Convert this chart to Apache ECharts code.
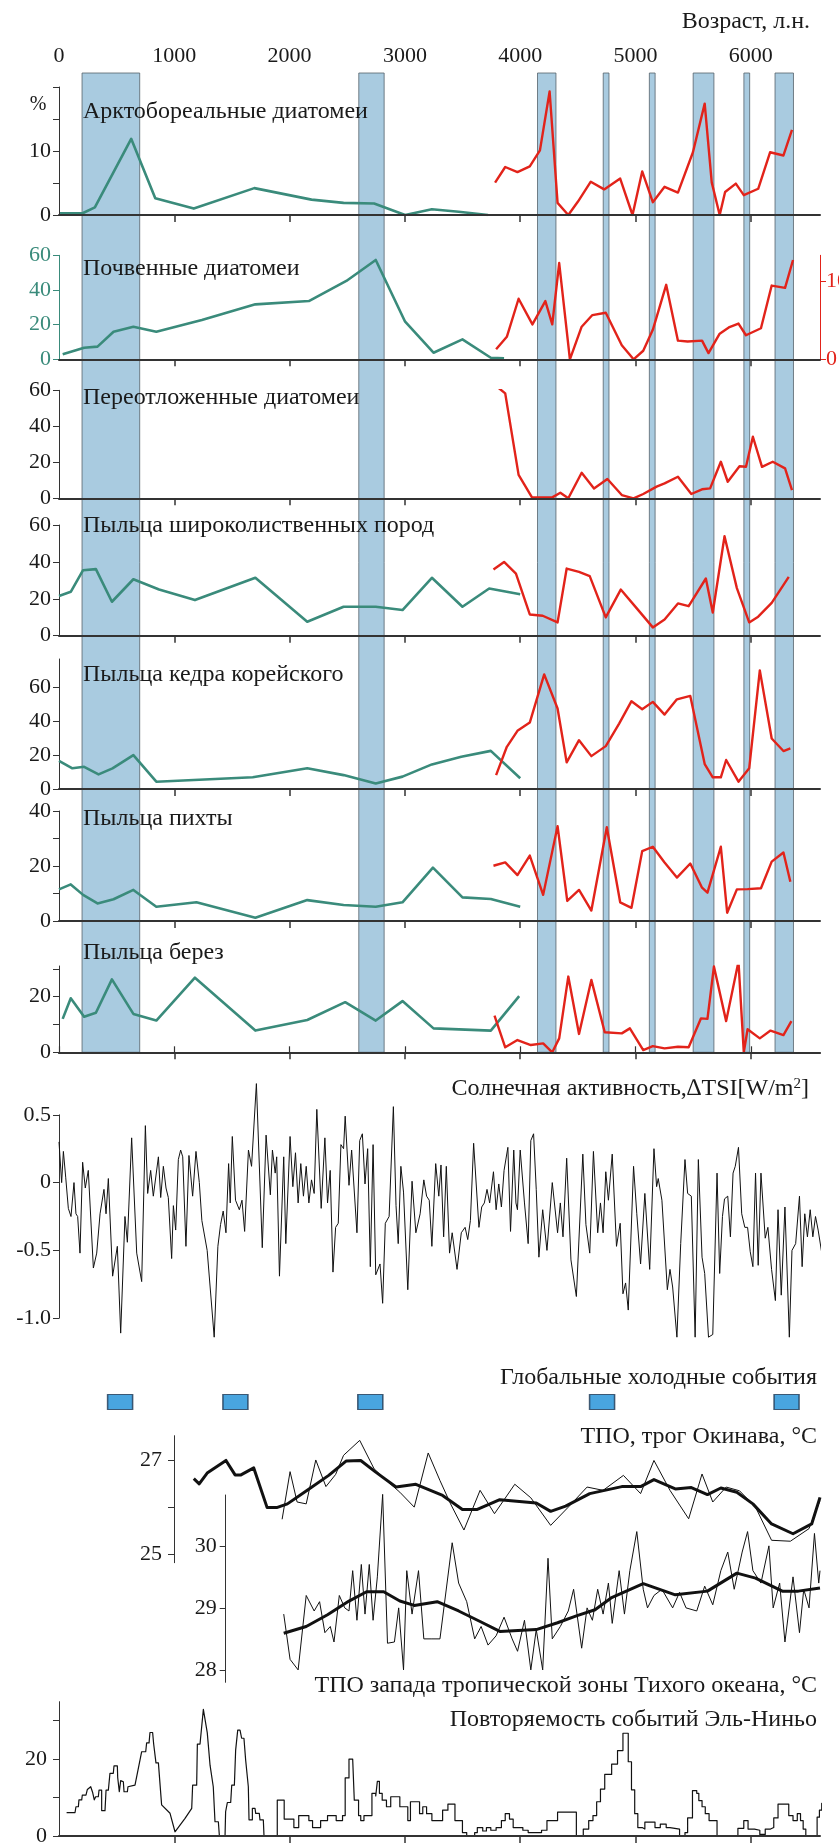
<!DOCTYPE html>
<html><head><meta charset="utf-8">
<script src="https://cdn.jsdelivr.net/npm/echarts@6/dist/echarts.min.js"></script>
<style>html,body{margin:0;padding:0;background:#fff}#c{width:839px;height:1843px}</style>
</head><body><div id="c"></div>
<script>
// ---------- DATA ----------
const yearTicks = [0,1000,2000,3000,4000,5000,6000];
const bands = [[200,700],[2600,2820],[4150,4310],[4720,4770],[5120,5170],[5500,5680],[5940,5990],[6210,6370]];
const coldEvents = [530,1530,2700,4710,6310];

const arctoGreen = [[9,0.26],[209,0.31],[311,1.2],[626,11.9],[835,2.6],[1169,1.0],[1694,4.2],[2190,2.4],[2468,1.9],[2733,1.8],[3002,0],[3234,0.9],[3466,0.5],[3721,0]];
const arctoRed = [[3782,5.05],[3870,7.5],[3976,6.7],[4083,7.6],[4171,10.1],[4255,19.3],[4324,1.9],[4417,0],[4501,2.1],[4612,5.2],[4728,4.0],[4867,5.7],[4974,0],[5058,6.8],[5150,2.0],[5252,4.4],[5368,3.5],[5498,9.8],[5600,17.4],[5661,5.1],[5730,0],[5777,3.6],[5870,4.9],[5939,3.1],[6064,4.1],[6167,9.8],[6283,9.3],[6357,13.3]];

const soilGreen = [[32,2.9],[218,6.7],[334,7.3],[473,15.9],[645,18.8],[844,15.9],[1239,22.7],[1703,31.7],[2167,33.6],[2492,45.2],[2747,57.3],[3002,21.7],[3248,3.8],[3499,11.5],[3745,0.9],[3860,0.6]];
const soilRed = [[3791,1.3],[3884,2.9],[3986,7.8],[4106,4.5],[4218,7.5],[4278,4.5],[4338,12.4],[4431,0],[4533,4.2],[4626,5.7],[4742,6.0],[4881,1.8],[4983,0],[5067,1.1],[5150,3.8],[5266,9.6],[5368,2.4],[5452,2.3],[5577,2.4],[5633,0.8],[5730,3.3],[5809,4.1],[5893,4.6],[5958,3.1],[6088,4.0],[6181,9.5],[6297,9.2],[6366,12.8]];

const redepRed = [[3782,62.9],[3870,58.3],[3986,13.0],[4102,0.5],[4278,0.5],[4348,3.1],[4417,0],[4533,14.2],[4640,5.5],[4756,10.7],[4881,1.8],[4983,0],[5067,2.4],[5183,6.5],[5252,8.3],[5368,12.0],[5484,2.4],[5577,5.0],[5647,5.5],[5740,20.3],[5800,9.2],[5902,17.8],[5958,17.5],[6018,34.2],[6097,17.5],[6190,20.3],[6297,16.6],[6357,4.6]];

const broadGreen = [[0,21.5],[102,23.8],[209,35.5],[320,36.1],[459,18.4],[645,30.6],[868,25.0],[1179,19.3],[1703,31.4],[2153,7.6],[2468,15.7],[2747,15.7],[2979,13.9],[3234,31.4],[3499,15.7],[3731,25.6],[4000,22.5]];
const broadRed = [[3768,35.9],[3860,40.0],[3963,33.7],[4083,11.5],[4195,10.8],[4324,7.2],[4403,36.4],[4510,34.6],[4603,32.3],[4742,9.9],[4872,25.0],[5011,14.8],[5150,4.5],[5252,8.8],[5368,17.5],[5461,16.0],[5610,31.0],[5670,12.6],[5772,53.9],[5879,25.8],[5986,7.2],[6064,10.3],[6181,17.8],[6329,31.9]];

const cedarGreen = [[0,16.6],[116,12.2],[218,13.1],[343,8.6],[464,12.2],[645,20.0],[844,4.3],[1680,6.9],[2153,12.2],[2468,8.2],[2747,3.3],[2979,7.3],[3234,14.5],[3489,19.0],[3745,22.5],[4000,6.3]];
const cedarRed = [[3791,8.2],[3884,24.9],[3976,34.3],[4083,39.2],[4208,67.6],[4324,47.5],[4403,15.7],[4510,28.8],[4617,19.4],[4742,25.3],[4858,38.6],[4965,51.8],[5058,47.1],[5150,51.4],[5252,43.9],[5359,52.9],[5475,54.9],[5600,14.7],[5670,6.9],[5740,6.9],[5786,17.1],[5893,4.3],[5986,12.2],[6078,70.0],[6181,29.8],[6283,22.4],[6343,24.0]];

const firGreen = [[0,11.5],[102,13.3],[209,9.5],[334,6.4],[473,7.9],[645,11.3],[844,5.2],[1192,6.8],[1703,1.2],[2153,7.6],[2468,5.8],[2747,5.2],[2979,6.8],[3243,19.4],[3499,8.6],[3745,8.0],[4000,5.2]];
const firRed = [[3768,20.1],[3870,21.3],[3976,16.7],[4083,23.8],[4199,9.5],[4324,34.5],[4408,7.3],[4510,11.3],[4617,3.8],[4751,34.1],[4867,6.8],[4965,4.8],[5058,25.4],[5150,27.0],[5252,21.3],[5359,15.8],[5475,20.9],[5577,12.1],[5624,10.3],[5740,27.0],[5795,3.0],[5879,11.5],[5972,11.6],[6088,11.9],[6181,21.6],[6283,24.9],[6343,14.3]];

const birchGreen = [[32,12.0],[102,19.4],[218,12.8],[320,14.2],[459,26.2],[645,13.8],[844,11.4],[1179,26.8],[1703,7.8],[2153,11.6],[2482,18.0],[2747,11.4],[2979,18.4],[3248,8.6],[3745,7.8],[3991,20.2]];
const birchRed = [[3777,13.2],[3870,1.8],[3976,4.4],[4092,2.6],[4199,3.2],[4278,0],[4338,5.0],[4417,27.2],[4510,6.6],[4617,26.0],[4733,7.2],[4881,6.8],[4951,8.6],[5067,0.8],[5150,2.2],[5252,1.4],[5368,2.0],[5461,1.8],[5568,12.2],[5624,12.0],[5680,30.8],[5786,11.2],[5893,32.6],[5939,0],[5972,8.3],[6078,5.0],[6171,7.8],[6283,6.2],[6352,11.2]];

const solarYears = [0,23,38,58,81,104,130,147,162,182,205,228,254,298,327,356,390,408,428,465,506,535,572,593,630,674,717,749,769,795,818,862,882,905,928,948,977,992,1012,1035,1055,1073,1101,1127,1159,1188,1217,
1239,1285,1346,1378,1401,1424,1448,1471,1485,1503,1531,1564,1587,1610,1643,1670,1712,1763,1796,1833,1851,1875,1888,1912,1949,1967,2004,2028,2051,2074,2097,2120,2144,2167,2190,2213,2236,2274,2306,2329,2352,2376,2399,2422,2445,2468,2482,2515,2538,2584,2608,2631,2654,2677,2700,2724,2747,2784,2807,2830,2863,2900,2923,2942,2965,2988,3025,3062,3095,3132,3164,3188,3211,3234,3267,3294,3313,3336,3359,3387,3410,3452,3489,3522,3545,3568,3596,3642,3666,3689,3712,3735,3768,3791,3814,3837,3860,3893,3916,3944,3963,3976,4000,4037,4069,4092,4116,4139,4162,4195,4232,4278,4324,4348,4371,4403,4440,4487,4543,4570,4603,4635,4672,4696,4719,4742,4765,4798,4835,4867,4891,4914,4937,4983,5011,5044,5081,5123,5160,5183,5197,5229,5276,5299,5322,5359,5392,5429,5452,5484,5517,5545,5577,5600,5633,5670,5707,5730,5754,5772,5800,5823,5846,5865,5893,5921,5948,5972,5995,6018,6041,6064,6088,6125,6148,6180,6213,6236,6264,6296,6334,6357,6389,6422,6445,6468,6491,6515,6538,6561,6584,6621,6645];
const solarValues = [0.30,0.0,0.23,0.04,-0.19,-0.25,0.0,-0.23,-0.25,-0.52,0.15,-0.04,0.09,-0.63,-0.52,-0.23,-0.05,-0.23,0.03,-0.69,-0.47,-1.11,-0.25,-0.44,0.33,-0.52,-0.73,0.42,-0.08,0.09,-0.1,0.19,-0.11,0.12,-0.04,-0.11,-0.56,-0.17,-0.35,0.17,0.24,0.19,-0.47,0.20,-0.1,0.23,0.0,
-0.28,-0.5,-1.14,-0.47,-0.31,-0.21,-0.37,0.14,-0.15,0.34,-0.13,-0.2,-0.13,-0.36,0.24,0.12,0.73,-0.48,0.35,-0.09,0.24,0.07,0.19,-0.69,0.19,-0.45,0.34,-0.03,0.22,-0.15,0.14,-0.1,0.12,-0.15,0.02,-0.08,0.54,-0.19,0.33,-0.15,0.09,-0.66,-0.33,-0.3,0.28,0.25,0.49,-0.02,0.24,-0.37,0.31,0.36,-0.01,0.25,-0.62,0.28,-0.68,-0.6,-0.89,-0.3,-0.25,0.56,-0.17,-0.45,0.12,-0.07,-0.79,0.01,-0.37,-0.23,0.02,-0.1,-0.13,-0.47,0.14,-0.1,0.13,-0.4,0.12,-0.52,-0.37,-0.64,-0.37,-0.33,-0.42,-0.28,0.29,-0.33,-0.18,-0.15,-0.05,-0.15,0.08,-0.2,-0.01,-0.18,0.09,0.26,-0.36,0.24,-0.15,-0.2,0.24,-0.15,-0.45,0.31,0.36,-0.05,-0.55,-0.2,-0.5,0.0,-0.37,-0.15,-0.4,0.18,-0.57,-0.84,0.21,-0.31,-0.52,0.23,-0.37,-0.15,-0.37,0.08,-0.13,0.21,-0.47,-0.3,-0.82,-0.74,-0.94,0.12,-0.23,-0.6,-0.08,-0.64,0.25,-0.03,0.03,-0.13,-0.79,-0.64,-0.77,-1.14,-0.45,0.17,-0.08,-0.1,-1.14,0.17,-0.55,-0.67,-1.14,-1.12,0.07,-0.67,-0.25,-0.12,-0.1,-0.4,0.07,0.12,0.26,-0.23,-0.33,-0.33,-0.51,-0.62,0.07,-0.61,0.07,-0.41,-0.33,-0.64,-0.87,-0.2,-0.83,-0.18,-1.14,-0.5,-0.45,-0.1,-0.62,-0.23,-0.4,-0.2,-0.4,-0.25,-0.35,-0.55,0.12];

const okiSmoothYears = [1169,1216,1285,1448,1527,1578,1689,1805,1888,1981,2153,2339,2492,2617,2747,2923,3095,3327,3499,3628,3823,4139,4264,4394,4603,4881,5044,5160,5345,5484,5624,5740,5879,6018,6180,6366,6528,6600];
const okiSmoothValues = [26.61,26.5,26.73,27.0,26.69,26.69,26.84,25.99,25.99,26.07,26.36,26.68,26.99,27.0,26.75,26.43,26.49,26.25,25.95,25.95,26.16,26.09,25.91,26.02,26.29,26.44,26.44,26.59,26.39,26.42,26.27,26.41,26.32,26.07,25.64,25.43,25.64,26.21];
const okiRawYears = [1935,2004,2065,2144,2227,2315,2399,2468,2608,2733,2840,2956,3081,3202,3304,3396,3512,3652,3777,3953,4092,4264,4417,4580,4719,4895,5044,5160,5299,5461,5577,5670,5786,5902,6041,6180,6343,6505,6600];
const okiRawValues = [25.74,26.76,26.11,26.07,27.01,26.44,26.7,27.11,27.43,26.82,26.57,26.32,26.0,27.16,26.57,26.07,25.51,26.36,25.86,26.49,26.2,25.61,26.0,26.43,26.36,26.68,26.29,27.0,26.36,25.75,26.71,26.11,26.43,26.35,26.0,25.29,25.27,25.54,26.14];

const wpSmoothYears = [1949,2144,2329,2515,2668,2816,2956,3081,3280,3466,3652,3823,4139,4324,4487,4649,4788,5067,5345,5624,5879,6041,6273,6412,6600];
const wpSmoothValues = [28.59,28.70,28.89,29.11,29.26,29.26,29.11,29.04,29.1,28.95,28.78,28.62,28.65,28.76,28.87,28.97,29.16,29.39,29.21,29.27,29.56,29.48,29.27,29.27,29.32];
const wpRawYears = [1949,2004,2074,2144,2213,2260,2306,2353,2385,2431,2478,2515,2547,2584,2622,2654,2691,2724,2761,2807,2849,2909,2946,2988,3016,3062,3118,3164,3234,3304,3410,3466,3536,3605,3661,3721,3791,3860,3930,3977,4037,4092,4139,4195,4241,4278,4348,4417,4463,4533,4580,4626,4672,4719,4765,4798,4858,4904,4951,5011,5067,5104,5160,5229,5322,5382,5438,5531,5600,5670,5740,5800,5856,5925,5972,6018,6088,6157,6194,6250,6296,6366,6422,6459,6505,6552,6589,6600];
const wpRawValues = [28.9,28.17,28.0,29.2,28.95,29.1,28.6,28.7,28.45,29.2,29.0,28.95,29.6,28.8,29.7,28.9,29.7,28.8,29.5,30.83,28.43,28.45,29.0,28.0,29.6,28.9,29.6,28.5,28.5,28.5,30.05,29.4,29.1,28.5,28.7,28.4,28.55,28.85,28.5,28.3,28.8,28.0,28.65,28.0,29.8,28.5,28.7,28.95,29.3,28.35,29.0,28.8,29.3,28.9,29.4,28.75,29.6,28.9,29.6,30.23,29.3,29.0,29.2,29.3,29.0,29.25,29.0,28.95,29.35,29.05,29.6,29.9,29.3,29.9,30.23,29.6,29.4,30.0,29.0,29.4,28.45,29.5,28.6,29.3,29.0,30.2,29.4,29.6];

// El Nino: early part as vertices, later part as step plateaus
const ninoEarly = [[66,6.1],[139,6.1],[147,7.6],[168,7.6],[173,9.4],[197,9.4],[202,10.6],[234,10.6],[246,12.1],[275,12.8],[292,11.3],[306,9.4],[318,10.2],[341,10.2],[347,11.9],[370,11.9],[370,6.6],[399,6.6],[408,11.9],[428,11.9],[442,16.3],[471,16.3],[477,18.2],[506,18.2],[509,15.2],[523,11.5],[535,14.4],[558,14.1],[564,11.5],[593,11.5],[598,12.8],[659,13.2],[717,21.9],[752,21.9],[760,24.2],[781,24.2],[789,26.9],[812,26.9],[821,23.9],[833,23.9],[841,19.0],[862,19.0],[890,8.1],[963,5.9],[1006,1.1],[1093,4.6],[1151,7.2],[1159,13.2],[1194,13.2],[1200,23.9],[1223,23.9],[1252,32.9],[1286,26.8],[1310,18.4],[1338,12.8],[1353,3.7],[1382,3.7],[1391,0],[1440,0],[1445,6.3],[1460,8.7],[1489,8.7],[1498,13.2],[1521,13.2],[1532,22.3],[1550,27.5],[1570,27.5],[1584,25.4],[1604,25.4],[1619,19.7],[1642,12.8],[1648,4.2],[1677,4.2],[1677,7.2],[1700,7.2],[1706,5.9],[1737,5.9],[1743,4.2],[1772,4.2],[1778,0],[1865,0]];
const ninoStepYears = [1865,1893,1953,2037,2079,2167,2199,2269,2329,2404,2459,2482,2515,2547,2561,2598,2617,2645,2714,2747,2761,2779,2803,2840,2877,2956,3025,3048,3127,3155,3188,3234,3327,3373,3434,3499,3536,3605,3628,3675,3707,3745,3791,3837,3870,3907,3939,4023,4069,4185,4232,4324,4487,4547,4594,4631,4663,4696,4733,4793,4844,4891,4937,4965,4993,5020,5058,5081,5169,5215,5266,5299,5382,5429,5452,5494,5531,5549,5577,5605,5638,5707,5888,5939,5976,6032,6078,6125,6171,6199,6236,6329,6366,6403,6431,6454,6477,6575,6595,6615,6625];
const ninoStepValues = [0,9.3,4.4,2.2,5.3,4,2.2,4,5.3,4,5.3,15.1,20,19.6,9.3,5.3,4,5.3,11.1,10.4,14.2,11.1,9.3,7.6,10.2,7.6,4,8.9,5.8,7.6,5.8,4,6.7,8.3,4,0.9,0,0.9,2.2,1.3,2.2,1.5,2.2,4,5.8,4.4,2.2,1.5,0.9,1.5,4,6.2,0,1.8,4,5.3,8.9,12.2,16,18.7,22.2,26.7,19.3,12,5.8,2.2,1.8,3.6,2.2,3.1,2.2,1.8,0,0.9,4.7,11.8,11.1,9.2,7.6,5.8,4,0,2,4,1.8,1.5,0.4,1.8,2.2,4.7,8.3,5.3,4,5.8,4,1.8,0,4.9,6.7,8.5,8.5];

// ---------- LAYOUT ----------
const FONT = '"Liberation Serif","Times New Roman",serif';
const TEAL = '#3a8b7b', RED = '#e2231a', AX = '#333';
const L = 59, R = 19;
const zip = (a, b) => a.slice(0, Math.min(a.length, b.length)).map((x, i) => [x, b[i]]);

const grids = [], xAxes = [], yAxes = [], series = [];
function addGrid(top, height) {
  grids.push({left: L, right: R, top: top, height: height, outerBoundsMode: 'none', containLabel: false});
  return grids.length - 1;
}
function xAxisFor(gi, kind) {
  const base = {gridIndex: gi, type: 'value', min: 0, max: 6600, splitLine: {show: false}, z: 10};
  if (kind === 'top') {
    Object.assign(base, {position: 'top',
      axisLine: {show: true, lineStyle: {color: AX, width: 1.5}},
      axisTick: {show: true, length: 6, customValues: yearTicks, lineStyle: {color: AX, width: 1.2}},
      axisLabel: {show: true, customValues: yearTicks, fontFamily: FONT, fontSize: 22, color: '#1a1a1a', margin: 6,
        formatter: v => String(v)}});
  } else if (kind === 'base') {
    Object.assign(base, {position: 'bottom',
      axisLine: {show: true, onZero: false, lineStyle: {color: AX, width: 2}},
      axisTick: {show: true, length: 7, customValues: yearTicks.slice(1), lineStyle: {color: AX, width: 1.5}},
      axisLabel: {show: false}});
  } else {
    Object.assign(base, {show: false});
  }
  xAxes.push(base);
  return xAxes.length - 1;
}
function yAxisFor(gi, o) {
  const color = o.color || '#1a1a1a';
  const ax = {gridIndex: gi, type: 'value', min: o.min, max: o.max, position: o.position || 'left',
    offset: o.offset || 0, splitLine: {show: false},
    axisLine: {show: true, onZero: false, lineStyle: {color: o.lineColor || AX, width: 1}},
    axisTick: {show: true, length: 6, customValues: o.ticks, lineStyle: {color: o.lineColor || AX, width: 1}},
    axisLabel: {show: true, customValues: o.labels, fontFamily: FONT, fontSize: 22, color: color, margin: o.margin || 8,
      formatter: o.fmt || (v => String(v))}};
  if (o.hidden) { ax.show = false; }
  yAxes.push(ax);
  return yAxes.length - 1;
}
function line(xi, yi, data, color, width, extra) {
  series.push(Object.assign({type: 'line', xAxisIndex: xi, yAxisIndex: yi, data: data, symbol: 'none',
    showSymbol: false, animation: false, z: 5,
    lineStyle: {color: color, width: width, join: 'round'}, itemStyle: {color: color}}, extra || {}));
}

// background grid with top axis and cold-phase bands
const g0 = addGrid(73, 979.3);
const x0 = xAxisFor(g0, 'top');
const y0 = yAxisFor(g0, {min: 0, max: 1, hidden: true});
series.push({type: 'line', xAxisIndex: x0, yAxisIndex: y0, data: [[0, -5]], symbol: 'none', z: 1, silent: true,
  lineStyle: {opacity: 0},
  markArea: {silent: true, itemStyle: {color: '#a9cbe0', borderColor: '#56626b', borderWidth: 0.8},
    data: bands.map(b => [{xAxis: b[0]}, {xAxis: b[1]}])}});

// diatom / pollen panels
const panels = [
  {top: 87,    h: 128,   max: 20,   ticks: [0,5,10,15,20], labels: [0,10], green: arctoGreen, red: arctoRed},
  {top: 255.3, h: 104,   max: 60,   ticks: [0,20,40,60], labels: [0,20,40,60], green: soilGreen, red: soilRed, tealAxis: true, rightMax: 13.4},
  {top: 390.3, h: 108,   max: 60,   ticks: [0,20,40,60], labels: [0,20,40,60], red: redepRed},
  {top: 525,   h: 110.7, max: 60,   ticks: [0,20,40,60], labels: [0,20,40,60], green: broadGreen, red: broadRed},
  {top: 659,   h: 130,   max: 76.7, ticks: [0,20,40,60], labels: [0,20,40,60], green: cedarGreen, red: cedarRed},
  {top: 811,   h: 110,   max: 40,   ticks: [0,10,20,30,40], labels: [0,20,40], green: firGreen, red: firRed},
  {top: 966,   h: 86.3,  max: 31,   ticks: [0,10,20,30], labels: [0,20], green: birchGreen, red: birchRed}
];
panels.forEach(p => {
  const gi = addGrid(p.top, p.h);
  const xi = xAxisFor(gi, 'base');
  const yi = yAxisFor(gi, {min: 0, max: p.max, ticks: p.ticks, labels: p.labels,
    color: p.tealAxis ? TEAL : '#1a1a1a', lineColor: p.tealAxis ? TEAL : AX});
  if (p.green) line(xi, yi, p.green, TEAL, 2.6);
  if (p.rightMax) {
    const yr = yAxisFor(gi, {min: 0, max: p.rightMax, position: 'right', ticks: [0,10], labels: [0,10],
      color: RED, lineColor: RED, margin: 6});
    line(xi, yr, p.red, RED, 2.4);
  } else if (p.red) {
    line(xi, yi, p.red, RED, 2.4);
  }
});

// solar activity
const gs = addGrid(1114.8, 203.4);
const xs = xAxisFor(gs, 'none');
const ys = yAxisFor(gs, {min: -1, max: 0.5, ticks: [-1, -0.5, 0, 0.5], labels: [-1, -0.5, 0, 0.5],
  fmt: v => (v === -1 ? '-1.0' : String(v))});
line(xs, ys, zip(solarYears, solarValues), '#111', 1, {clip: false});

// global cold events
const gc = addGrid(1395, 14);
const xc = xAxisFor(gc, 'none');
const yc = yAxisFor(gc, {min: 0, max: 1, hidden: true});
series.push({type: 'scatter', xAxisIndex: xc, yAxisIndex: yc, data: coldEvents.map(y => [y, 0.5]),
  symbol: 'rect', symbolSize: [25, 15], animation: false,
  itemStyle: {color: '#1b8fd7', borderColor: '#203a55', borderWidth: 1.2}});

// Okinawa SST
const go = addGrid(1435.7, 127);
const xo = xAxisFor(go, 'none');
const yo = yAxisFor(go, {min: 24.81, max: 27.53, ticks: [25, 26, 27], labels: [25, 27], offset: -115, margin: 12});
line(xo, yo, zip(okiRawYears, okiRawValues), '#111', 1, {clip: false});
line(xo, yo, zip(okiSmoothYears, okiSmoothValues), '#111', 3, {clip: false});

// West tropical Pacific SST
const gw = addGrid(1495, 187.3);
const xw = xAxisFor(gw, 'none');
const yw = yAxisFor(gw, {min: 27.8, max: 30.82, ticks: [28, 29, 30], labels: [28, 29, 30], offset: -166.7, margin: 9});
line(xw, yw, zip(wpRawYears, wpRawValues), '#111', 1, {clip: false});
line(xw, yw, zip(wpSmoothYears, wpSmoothValues), '#111', 3, {clip: false});

// El Nino frequency
const gn = addGrid(1701.7, 134.3);
const xn = xAxisFor(gn, 'base');
const yn = yAxisFor(gn, {min: 0, max: 34.9, ticks: [0, 10, 20, 30], labels: [0, 20], margin: 12});
line(xn, yn, ninoEarly, '#111', 1.2, {clip: false});
line(xn, yn, zip(ninoStepYears, ninoStepValues), '#111', 1.2, {step: 'end', clip: false});

// ---------- TEXT ----------
const T = (text, x, y, align, size, extra) => ({type: 'text', x: x, y: y, silent: true, z: 20,
  style: Object.assign({text: text, font: (size || 24) + 'px ' + FONT, fill: '#1a1a1a', align: align || 'left', verticalAlign: 'middle'}, extra || {})});
const titles = [
  ['Арктобореальные диатомеи', 112], ['Почвенные диатомеи', 269], ['Переотложенные диатомеи', 398],
  ['Пыльца широколиственных пород', 526], ['Пыльца кедра корейского', 675], ['Пыльца пихты', 819], ['Пыльца берез', 953]
];
const graphic = [
  T('Возраст, л.н.', 810, 22, 'right'),
  T('%', 38, 105, 'center', 20),
  ...titles.map(t => T(t[0], 83, t[1], 'left')),
  T('Солнечная активность,∆TSI[W/m{s|2}]', 809, 1089, 'right', 24,
    {rich: {s: {font: '15px ' + FONT, fill: '#1a1a1a', verticalAlign: 'top'}}}),
  T('Глобальные холодные события', 817, 1378, 'right'),
  T('ТПО, трог Окинава, °С', 817, 1437, 'right'),
  T('ТПО запада тропической зоны Тихого океана, °С', 817, 1686, 'right'),
  T('Повторяемость событий Эль-Ниньо', 817, 1720, 'right')
];

const chart = echarts.init(document.getElementById('c'), null, {renderer: 'canvas'});
chart.setOption({animation: false, backgroundColor: '#fff', grid: grids, xAxis: xAxes, yAxis: yAxes, series: series, graphic: graphic});
</script>
</body></html>
